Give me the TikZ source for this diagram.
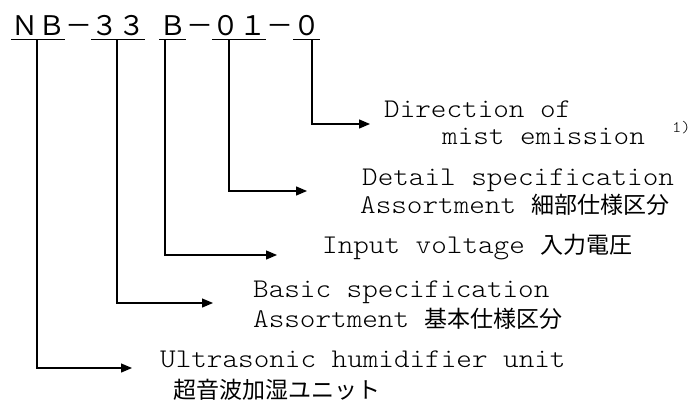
\documentclass[tikz,border=0pt]{standalone}
\usepackage{fontspec}
\setmonofont[FakeStretch=1.1]{Latin Modern Mono Light}
\newfontfamily\jp{Noto Sans CJK JP}
\usetikzlibrary{arrows.meta}

\tikzset{
  code/.style={anchor=base west,inner sep=0pt,font=\jp\fontsize{27pt}{27pt}\selectfont},
  lbl/.style={anchor=base west,inner sep=0pt,font=\ttfamily\fontsize{27pt}{28pt}\selectfont},
  jplbl/.style={anchor=base west,inner sep=0pt,font=\jp\fontsize{23pt}{26pt}\selectfont},
  conn/.style={line width=1.3pt,-{Triangle[length=11pt,width=9pt]}},
  uline/.style={line width=1.7pt}
}

\begin{document}
\begin{tikzpicture}[x=1pt,y=-1pt,line join=miter]
        \useasboundingbox (0,0) rectangle (693,410);

        % Codigo del modelo
        \node[code] (nb) at (11,35) {ＮＢ};
        \node[code] (d1) at (65,35) {－};
        \node[code] (tt) at (91,35) {３３};
        \node[code] (bb) at (159,35) {Ｂ};
        \node[code] (d2) at (186,35) {－};
        \node[code] (zo) at (212,35) {０１};
        \node[code] (d3) at (266,35) {－};
        \node[code] (ze) at (293,35) {０};
        \foreach \g in {nb,tt,bb,zo,ze} {
            \draw[uline] ([yshift=-4.5pt]\g.base west) -- ([yshift=-4.5pt]\g.base east);
        }

        % Lineas hacia cada descripcion
        \foreach \nm/\sx/\ty/\tx in {nb/37/368/132,tt/117/303/213,bb/165/255/277,zo/229/191/307,ze/312/124/370} {
            \coordinate (s\nm) at (\sx,39.5);
            \coordinate (t\nm) at (\tx,\ty);
            \draw[conn] (s\nm) |- (t\nm);
        }

        % Descripciones
        \node[lbl] (dir1) at (384,117) {Direction of};
        \node[lbl] (dir2) at (442,144) {mist emission};
        \node[anchor=base west,inner sep=0pt,font=\ttfamily\fontsize{16pt}{16pt}\selectfont] (note) at (672,132) {1)};
        \node[lbl] (det1) at (362,185) {Detail specification};
        \node[lbl] (det2) at (360,213) {Assortment {\jp\fontsize{23pt}{26pt}\selectfont 細部仕様区分}};
        \node[lbl] (inp) at (322,253) {Input voltage {\jp\fontsize{23pt}{26pt}\selectfont 入力電圧}};
        \node[lbl] (bas1) at (253,297) {Basic specification};
        \node[lbl] (bas2) at (253,327) {Assortment {\jp\fontsize{23pt}{26pt}\selectfont 基本仕様区分}};
        \node[lbl] (ult1) at (160,367) {Ultrasonic humidifier unit};
        \node[jplbl] (ult2) at (173,398) {超音波加湿ユニット};
    \end{tikzpicture}
\end{document}
